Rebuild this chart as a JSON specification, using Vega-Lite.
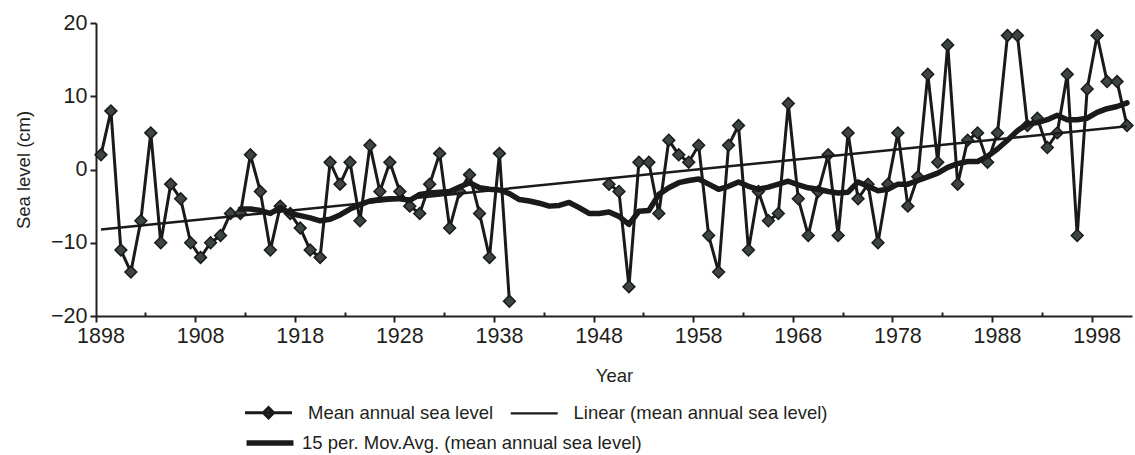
{
  "$schema": "https://vega.github.io/schema/vega-lite/v6.json",
  "width": 1036,
  "height": 293,
  "autosize": {"type": "none"},
  "padding": {"left": 96, "top": 23, "right": 3, "bottom": 139},
  "config": {
    "view": {"stroke": null},
    "font": "Liberation Sans",
    "axis": {
      "grid": false,
      "domainColor": "#231f20",
      "domainWidth": 2,
      "tickColor": "#231f20",
      "tickWidth": 2,
      "labelColor": "#231f20",
      "labelFont": "Liberation Sans",
      "labelFontSize": 21.5,
      "titleFont": "Liberation Sans",
      "titleFontSize": 18.5,
      "titleFontWeight": "normal",
      "titleColor": "#231f20"
    }
  },
  "datasets": {
    "annual": [
      {"Year": 1898, "level": 2, "seg": "a"}, {"Year": 1899, "level": 8, "seg": "a"},
      {"Year": 1900, "level": -11, "seg": "a"}, {"Year": 1901, "level": -14, "seg": "a"},
      {"Year": 1902, "level": -7, "seg": "a"}, {"Year": 1903, "level": 5, "seg": "a"},
      {"Year": 1904, "level": -10, "seg": "a"}, {"Year": 1905, "level": -2, "seg": "a"},
      {"Year": 1906, "level": -4, "seg": "a"}, {"Year": 1907, "level": -10, "seg": "a"},
      {"Year": 1908, "level": -12, "seg": "a"}, {"Year": 1909, "level": -10, "seg": "a"},
      {"Year": 1910, "level": -9, "seg": "a"}, {"Year": 1911, "level": -6, "seg": "a"},
      {"Year": 1912, "level": -6, "seg": "a"}, {"Year": 1913, "level": 2, "seg": "a"},
      {"Year": 1914, "level": -3, "seg": "a"}, {"Year": 1915, "level": -11, "seg": "a"},
      {"Year": 1916, "level": -5, "seg": "a"}, {"Year": 1917, "level": -6, "seg": "a"},
      {"Year": 1918, "level": -8, "seg": "a"}, {"Year": 1919, "level": -11, "seg": "a"},
      {"Year": 1920, "level": -12, "seg": "a"}, {"Year": 1921, "level": 1, "seg": "a"},
      {"Year": 1922, "level": -2, "seg": "a"}, {"Year": 1923, "level": 1, "seg": "a"},
      {"Year": 1924, "level": -7, "seg": "a"}, {"Year": 1925, "level": 3.3, "seg": "a"},
      {"Year": 1926, "level": -3, "seg": "a"}, {"Year": 1927, "level": 1, "seg": "a"},
      {"Year": 1928, "level": -3, "seg": "a"}, {"Year": 1929, "level": -5, "seg": "a"},
      {"Year": 1930, "level": -6, "seg": "a"}, {"Year": 1931, "level": -2, "seg": "a"},
      {"Year": 1932, "level": 2.2, "seg": "a"}, {"Year": 1933, "level": -8, "seg": "a"},
      {"Year": 1934, "level": -3, "seg": "a"}, {"Year": 1935, "level": -0.7, "seg": "a"},
      {"Year": 1936, "level": -6, "seg": "a"}, {"Year": 1937, "level": -12, "seg": "a"},
      {"Year": 1938, "level": 2.2, "seg": "a"}, {"Year": 1939, "level": -18, "seg": "a"},
      {"Year": 1949, "level": -2, "seg": "b"}, {"Year": 1950, "level": -3, "seg": "b"},
      {"Year": 1951, "level": -16, "seg": "b"}, {"Year": 1952, "level": 1, "seg": "b"},
      {"Year": 1953, "level": 1, "seg": "b"}, {"Year": 1954, "level": -6, "seg": "b"},
      {"Year": 1955, "level": 4, "seg": "b"}, {"Year": 1956, "level": 2, "seg": "b"},
      {"Year": 1957, "level": 1, "seg": "b"}, {"Year": 1958, "level": 3.3, "seg": "b"},
      {"Year": 1959, "level": -9, "seg": "b"}, {"Year": 1960, "level": -14, "seg": "b"},
      {"Year": 1961, "level": 3.3, "seg": "b"}, {"Year": 1962, "level": 6, "seg": "b"},
      {"Year": 1963, "level": -11, "seg": "b"}, {"Year": 1964, "level": -3, "seg": "b"},
      {"Year": 1965, "level": -7, "seg": "b"}, {"Year": 1966, "level": -6, "seg": "b"},
      {"Year": 1967, "level": 9, "seg": "b"}, {"Year": 1968, "level": -4, "seg": "b"},
      {"Year": 1969, "level": -9, "seg": "b"}, {"Year": 1970, "level": -3, "seg": "b"},
      {"Year": 1971, "level": 2, "seg": "b"}, {"Year": 1972, "level": -9, "seg": "b"},
      {"Year": 1973, "level": 5, "seg": "b"}, {"Year": 1974, "level": -4, "seg": "b"},
      {"Year": 1975, "level": -2, "seg": "b"}, {"Year": 1976, "level": -10, "seg": "b"},
      {"Year": 1977, "level": -2, "seg": "b"}, {"Year": 1978, "level": 5, "seg": "b"},
      {"Year": 1979, "level": -5, "seg": "b"}, {"Year": 1980, "level": -1, "seg": "b"},
      {"Year": 1981, "level": 13, "seg": "b"}, {"Year": 1982, "level": 1, "seg": "b"},
      {"Year": 1983, "level": 17, "seg": "b"}, {"Year": 1984, "level": -2, "seg": "b"},
      {"Year": 1985, "level": 4, "seg": "b"}, {"Year": 1986, "level": 5, "seg": "b"},
      {"Year": 1987, "level": 1, "seg": "b"}, {"Year": 1988, "level": 5, "seg": "b"},
      {"Year": 1989, "level": 18.3, "seg": "b"}, {"Year": 1990, "level": 18.3, "seg": "b"},
      {"Year": 1991, "level": 6, "seg": "b"}, {"Year": 1992, "level": 7, "seg": "b"},
      {"Year": 1993, "level": 3, "seg": "b"}, {"Year": 1994, "level": 5, "seg": "b"},
      {"Year": 1995, "level": 13, "seg": "b"}, {"Year": 1996, "level": -9, "seg": "b"},
      {"Year": 1997, "level": 11, "seg": "b"}, {"Year": 1998, "level": 18.3, "seg": "b"},
      {"Year": 1999, "level": 12, "seg": "b"}, {"Year": 2000, "level": 12, "seg": "b"},
      {"Year": 2001, "level": 6, "seg": "b"}
    ],
    "trend": [
      {"Year": 1898, "level": -8.2},
      {"Year": 2001, "level": 5.9}
    ],
    "ma": [
      {"Year": 1912, "level": -5.4}, {"Year": 1913, "level": -5.4}, {"Year": 1914, "level": -5.6},
      {"Year": 1915, "level": -6.0}, {"Year": 1916, "level": -5.2}, {"Year": 1917, "level": -6.0},
      {"Year": 1918, "level": -6.3}, {"Year": 1919, "level": -6.6}, {"Year": 1920, "level": -7.0},
      {"Year": 1921, "level": -6.8}, {"Year": 1922, "level": -6.2}, {"Year": 1923, "level": -5.4},
      {"Year": 1924, "level": -4.8}, {"Year": 1925, "level": -4.3}, {"Year": 1926, "level": -4.1},
      {"Year": 1927, "level": -4.0}, {"Year": 1928, "level": -4.0}, {"Year": 1929, "level": -4.2},
      {"Year": 1930, "level": -3.4}, {"Year": 1931, "level": -3.2}, {"Year": 1932, "level": -3.1},
      {"Year": 1933, "level": -3.0}, {"Year": 1934, "level": -2.4}, {"Year": 1935, "level": -1.8},
      {"Year": 1936, "level": -2.5}, {"Year": 1937, "level": -2.7}, {"Year": 1938, "level": -2.8},
      {"Year": 1939, "level": -3.3}, {"Year": 1940, "level": -4.1}, {"Year": 1941, "level": -4.3},
      {"Year": 1942, "level": -4.6}, {"Year": 1943, "level": -5.0}, {"Year": 1944, "level": -4.9},
      {"Year": 1945, "level": -4.5}, {"Year": 1946, "level": -5.2}, {"Year": 1947, "level": -6.0},
      {"Year": 1948, "level": -6.0}, {"Year": 1949, "level": -5.8}, {"Year": 1950, "level": -6.4},
      {"Year": 1951, "level": -7.5}, {"Year": 1952, "level": -5.7}, {"Year": 1953, "level": -5.6},
      {"Year": 1954, "level": -3.4}, {"Year": 1955, "level": -2.5}, {"Year": 1956, "level": -1.8},
      {"Year": 1957, "level": -1.5}, {"Year": 1958, "level": -1.3}, {"Year": 1959, "level": -2.0},
      {"Year": 1960, "level": -2.7}, {"Year": 1961, "level": -2.3}, {"Year": 1962, "level": -1.7},
      {"Year": 1963, "level": -2.3}, {"Year": 1964, "level": -2.7}, {"Year": 1965, "level": -2.4},
      {"Year": 1966, "level": -2.0}, {"Year": 1967, "level": -1.6}, {"Year": 1968, "level": -2.1},
      {"Year": 1969, "level": -2.5}, {"Year": 1970, "level": -2.7}, {"Year": 1971, "level": -3.0},
      {"Year": 1972, "level": -3.2}, {"Year": 1973, "level": -3.1}, {"Year": 1974, "level": -1.7},
      {"Year": 1975, "level": -2.3}, {"Year": 1976, "level": -2.9}, {"Year": 1977, "level": -2.7},
      {"Year": 1978, "level": -2.0}, {"Year": 1979, "level": -2.0}, {"Year": 1980, "level": -1.5},
      {"Year": 1981, "level": -1.0}, {"Year": 1982, "level": -0.5}, {"Year": 1983, "level": 0.3},
      {"Year": 1984, "level": 0.8}, {"Year": 1985, "level": 1.1}, {"Year": 1986, "level": 1.1},
      {"Year": 1987, "level": 1.8}, {"Year": 1988, "level": 2.8}, {"Year": 1989, "level": 4.0},
      {"Year": 1990, "level": 5.3}, {"Year": 1991, "level": 6.2}, {"Year": 1992, "level": 6.4},
      {"Year": 1993, "level": 6.8}, {"Year": 1994, "level": 7.4}, {"Year": 1995, "level": 6.8},
      {"Year": 1996, "level": 6.8}, {"Year": 1997, "level": 7.0}, {"Year": 1998, "level": 7.8},
      {"Year": 1999, "level": 8.3}, {"Year": 2000, "level": 8.6}, {"Year": 2001, "level": 9.1}
    ]
  },
  "layer": [
    {
      "data": {"name": "annual"},
      "mark": {"type": "line", "color": "#1a1a1a", "strokeJoin": "miter"},
      "encoding": {
        "x": {
          "field": "Year", "type": "ordinal",
          "scale": {"type": "band", "paddingInner": 0, "paddingOuter": 0},
          "axis": {
            "title": "Year",
            "values": [1898,1903,1908,1913,1918,1923,1928,1933,1938,1943,1948,1953,1958,1963,1968,1973,1978,1983,1988,1993,1998],
            "bandPosition": 0,
            "labelAngle": 0,
            "labelOverlap": false,
            "labelBound": false,
            "labelExpr": "(datum.value - 1898) % 10 === 0 ? datum.label : ''",
            "tickSize": {"condition": {"test": "(datum.value - 1898) % 10 === 0", "value": 6}, "value": -4},
            "labelPadding": 3,
            "titlePadding": 20
          }
        },
        "y": {
          "field": "level", "type": "quantitative",
          "scale": {"domain": [-20, 20], "nice": false, "zero": false},
          "axis": {
            "title": "Sea level (cm)",
            "values": [-20, -15, -10, -5, 0, 5, 10, 15, 20],
            "tickSize": 6,
            "labelPadding": 3,
            "titlePadding": 17
          }
        },
        "detail": {"field": "seg"},
        "strokeWidth": {
          "datum": "Mean annual sea level", "type": "nominal",
          "scale": {
            "type": "ordinal",
            "domain": ["Mean annual sea level", "Linear (mean annual sea level)"],
            "range": [3, 2.2]
          },
          "legend": {
            "orient": "none",
            "legendX": 163,
            "legendY": 380,
            "direction": "horizontal",
            "title": null,
            "padding": 0,
            "labelFont": "Liberation Sans",
            "labelFontSize": 18.5,
            "labelColor": "#231f20",
            "labelLimit": 0,
            "symbolSize": 245,
            "symbolType": "M-3,0H3",
            "symbolStrokeColor": "#1a1a1a",
            "symbolFillColor": "#3d4444",
            "labelOffset": 30,
            "columnPadding": 12,
            "encode": {
              "symbols": {
                "update": {
                  "shape": {"signal": "datum.value === 'Mean annual sea level' ? 'M-3,0H3M0,-0.65L0.65,0L0,0.65L-0.65,0Z' : 'M-3,0H3'"},
                  "fill": {"value": "#3d4444"},
                  "stroke": {"value": "#1a1a1a"}
                }
              }
            }
          }
        }
      }
    },
    {
      "data": {"name": "annual"},
      "mark": {"type": "point", "shape": "diamond", "filled": true, "size": 140, "fill": "#3d4444", "stroke": "#1a1a1a", "strokeWidth": 1.5, "opacity": 1},
      "encoding": {
        "x": {"field": "Year", "type": "ordinal"},
        "y": {"field": "level", "type": "quantitative"}
      }
    },
    {
      "data": {"name": "trend"},
      "mark": {"type": "line", "color": "#1a1a1a"},
      "encoding": {
        "x": {"field": "Year", "type": "ordinal"},
        "y": {"field": "level", "type": "quantitative"},
        "strokeWidth": {"datum": "Linear (mean annual sea level)", "type": "nominal", "legend": null}
      }
    },
    {
      "data": {"name": "ma"},
      "mark": {"type": "line", "strokeWidth": 5.5, "strokeJoin": "round", "strokeCap": "round"},
      "encoding": {
        "x": {"field": "Year", "type": "ordinal"},
        "y": {"field": "level", "type": "quantitative"},
        "color": {
          "datum": "15 per. Mov.Avg. (mean annual sea level)", "type": "nominal",
          "scale": {"range": ["#1a1a1a"]},
          "legend": {
            "orient": "none",
            "legendX": 163,
            "legendY": 409,
            "title": null,
            "padding": 0,
            "labelFont": "Liberation Sans",
            "labelFontSize": 18.5,
            "labelColor": "#231f20",
            "labelLimit": 0,
            "symbolSize": 245,
            "symbolType": "M-3,0H3",
            "symbolStrokeWidth": 5.5,
            "symbolStrokeColor": "#1a1a1a",
            "labelOffset": 21
          }
        }
      }
    }
  ]
}
